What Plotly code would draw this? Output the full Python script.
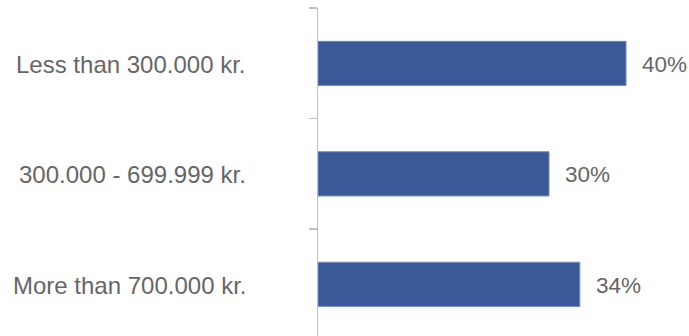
import plotly.graph_objects as go

categories = ["Less than 300.000 kr.", "300.000 - 699.999 kr.", "More than 700.000 kr."]
values = [40, 30, 34]
value_labels = ["40%", "30%", "34%"]

FONT = "Liberation Sans, Arial, sans-serif"
GRAY = "#666666"

fig = go.Figure(go.Bar(
    x=values, y=categories, orientation="h",
    marker=dict(color="#3B5998", line=dict(color="#6F8BC4", width=1)),
    hoverinfo="skip",
))

annotations = []
for c, v, t in zip(categories, values, value_labels):
    annotations.append(dict(x=v, y=c, xref="x", yref="y", text=t, showarrow=False,
                            xanchor="left", xshift=14, yshift=-1,
                            font=dict(family=FONT, size=22.5, color=GRAY)))
    annotations.append(dict(x=0, y=c, xref="paper", yref="y", text=c, showarrow=False,
                            xanchor="right", xshift=-70, yshift=-1,
                            font=dict(family=FONT, size=24, color=GRAY)))

fig.update_layout(
    width=689, height=336,
    margin=dict(l=318, r=0, t=8, b=0, pad=0),
    plot_bgcolor="white", paper_bgcolor="white",
    bargap=0.6, showlegend=False,
    annotations=annotations,
    xaxis=dict(range=[0, 48.18], visible=False, fixedrange=True),
    yaxis=dict(type="category", categoryorder="array", categoryarray=categories,
               range=[2.468, -0.502], showticklabels=False, tickson="boundaries",
               ticks="outside", ticklen=8, tickcolor="#BFBFBF", tickwidth=1.5,
               showline=True, linecolor="#BFBFBF", linewidth=1.5,
               showgrid=False, zeroline=False, fixedrange=True),
)

fig.write_html("out.html",
               config={"displayModeBar": False, "staticPlot": True},
               post_script="document.body.style.margin='0';document.body.style.overflow='hidden';")
